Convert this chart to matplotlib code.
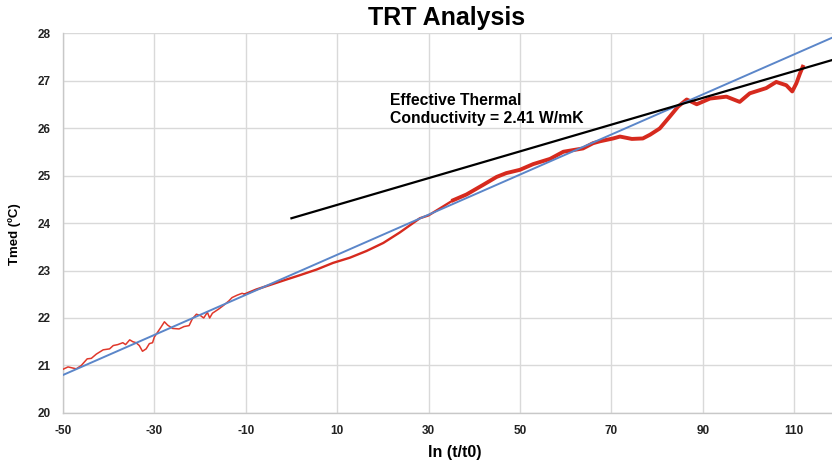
import numpy as np
import matplotlib
matplotlib.use('Agg')
import matplotlib.pyplot as plt

plt.rcParams['font.family'] = ['Liberation Sans', 'DejaVu Sans']
plt.rcParams['axes.unicode_minus'] = False

ln_t = [-50, -48.9, -47.1, -46, -44.7, -43.8, -42.7, -41.2, -39.8, -39, -38, -36.9, -36.3,
        -35.4, -34.7, -34, -33.3, -32.6, -31.8, -31.1, -30.4, -30, -29.3, -28.6, -27.8,
        -27.1, -26, -24.6, -23.5, -22.4, -21.7, -20.8, -19.9, -19.2, -18.4, -17.9, -17.3,
        -15.9, -14.8, -13.7, -13, -11.9, -10.8, -10.2, -7.7, -5.5, -3.3, -1.1, 1.8, 5.5,
        9.1, 12.8, 16.4, 20.1, 23.7, 28.1, 30, 35.4, 38.3, 41.9, 44.9, 47, 50, 52.9,
        56.6, 59.5, 63.8, 66, 67.5, 70.4, 71.9, 74.5, 76.9, 78.5, 80.6, 82.8, 84.6, 86.5,
        88.7, 91.6, 95.2, 98.1, 100.3, 103.9, 106.1, 108.3, 109.6, 110.5, 111.3, 111.9]
tmed = [20.92, 20.97, 20.93, 21.0, 21.14, 21.15, 21.24, 21.33, 21.35, 21.42, 21.44, 21.48,
        21.44, 21.54, 21.5, 21.48, 21.42, 21.3, 21.35, 21.46, 21.48, 21.6, 21.7, 21.8,
        21.92, 21.85, 21.78, 21.77, 21.82, 21.84, 21.98, 22.08, 22.05, 22.0, 22.12, 22.0,
        22.1, 22.19, 22.27, 22.36, 22.43, 22.48, 22.52, 22.5, 22.6, 22.67, 22.74, 22.81,
        22.9, 23.02, 23.16, 23.27, 23.41, 23.58, 23.8, 24.1, 24.16, 24.48, 24.6, 24.8,
        24.97, 25.05, 25.12, 25.24, 25.35, 25.5, 25.57, 25.68, 25.72, 25.78, 25.82, 25.77,
        25.78, 25.86, 25.99, 26.24, 26.45, 26.6, 26.5, 26.62, 26.66, 26.55, 26.73, 26.84,
        26.97, 26.9, 26.77, 26.94, 27.15, 27.29]

# Straight-line fit (blue) and effective-conductivity slope line (black)
fit_x = [-50, 118.3]
fit_y = [20.8, 27.9]
slope_x = [0, 118.3]
slope_y = [24.1, 27.43]

x_ticks = [-50, -30, -10, 10, 30, 50, 70, 90, 110]
y_ticks = [20, 21, 22, 23, 24, 25, 26, 27, 28]

fig = plt.figure(figsize=(8.32, 4.63), dpi=100)
ax = fig.add_axes([0.0757, 0.108, 0.9243, 0.8207])

ln_t = np.array(ln_t)
tmed = np.array(tmed)
seg1 = ln_t <= -10.2
seg2 = (ln_t >= -10.2) & (ln_t <= 35.4)
seg3 = ln_t >= 35.4
ax.plot(ln_t[seg1], tmed[seg1], color='#e0382b', lw=1.1, zorder=3)
ax.plot(ln_t[seg2], tmed[seg2], color='#d62a1e', lw=1.7, zorder=3)
ax.plot(ln_t[seg3], tmed[seg3], color='#d62a1e', lw=2.8, zorder=3)
ax.plot(fit_x, fit_y, color='#5b86c9', lw=1.4, zorder=4)
ax.plot(slope_x, slope_y, color='black', lw=1.6, zorder=4)

ax.set_xlim(-50, 118.3)
ax.set_ylim(20, 28)
ax.set_xticks(x_ticks)
ax.set_yticks(y_ticks)
ax.grid(True, color='#d9d9d9', lw=1.0)
ax.set_axisbelow(True)
for s in ['top', 'right']:
    ax.spines[s].set_visible(False)
for s in ['left', 'bottom']:
    ax.spines[s].set_color('#c8c8c8')
    ax.spines[s].set_linewidth(1.0)
ax.tick_params(length=0, labelsize=8.5, pad=9)
for lab in ax.get_xticklabels() + ax.get_yticklabels():
    lab.set_fontweight('bold')
    lab.set_color('#222222')

ax.text(21.6, 26.4, 'Effective Thermal\nConductivity = 2.41 W/mK',
        fontsize=11.3, fontweight='bold', va='center', ha='left', linespacing=1.25)

fig.text(0.537, 0.962, 'TRT Analysis', ha='center', va='center',
         fontsize=18, fontweight='bold')
fig.text(0.547, 0.022, 'ln (t/t0)', ha='center', va='center',
         fontsize=11.5, fontweight='bold')
fig.text(0.017, 0.495, 'Tmed (ºC)', ha='center', va='center', rotation=90,
         fontsize=9.5, fontweight='bold')

fig.savefig('out.png', dpi=100)
